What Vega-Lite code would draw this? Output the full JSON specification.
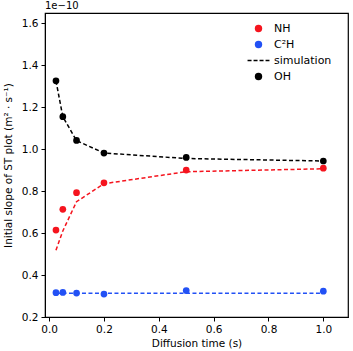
{
  "$schema": "https://vega.github.io/schema/vega-lite/v6.json",
  "width": 303,
  "height": 304,
  "autosize": {"type": "none"},
  "padding": {"left": 45, "top": 13, "right": 5, "bottom": 34},
  "background": "white",
  "title": {"text": "1e−10", "anchor": "start", "align": "left", "frame": "group", "orient": "top", "offset": 2, "font": "DejaVu Sans", "fontSize": 10, "fontWeight": "normal", "color": "black"},
  "config": {
    "view": {"stroke": "black", "strokeWidth": 1.2},
    "axis": {"grid": false, "domainColor": "black", "tickColor": "black", "labelColor": "black", "titleColor": "black", "labelFont": "DejaVu Sans", "titleFont": "DejaVu Sans", "labelFontSize": 10.5, "titleFontSize": 10.5, "titleFontWeight": "normal", "tickSize": 4, "labelPadding": 3},
    "legend": {"labelFont": "DejaVu Sans", "labelFontSize": 11, "labelColor": "black"}
  },
  "data": {"values": [
    {"series": "NH", "kind": "measured", "t": 0.025, "slope": 0.614},
    {"series": "NH", "kind": "measured", "t": 0.05, "slope": 0.713},
    {"series": "NH", "kind": "measured", "t": 0.1, "slope": 0.792},
    {"series": "NH", "kind": "measured", "t": 0.2, "slope": 0.839},
    {"series": "NH", "kind": "measured", "t": 0.5, "slope": 0.900},
    {"series": "NH", "kind": "measured", "t": 1.0, "slope": 0.909},
    {"series": "C²H", "kind": "measured", "t": 0.025, "slope": 0.316},
    {"series": "C²H", "kind": "measured", "t": 0.05, "slope": 0.317},
    {"series": "C²H", "kind": "measured", "t": 0.1, "slope": 0.314},
    {"series": "C²H", "kind": "measured", "t": 0.2, "slope": 0.309},
    {"series": "C²H", "kind": "measured", "t": 0.5, "slope": 0.326},
    {"series": "C²H", "kind": "measured", "t": 1.0, "slope": 0.323},
    {"series": "OH", "kind": "measured", "t": 0.025, "slope": 1.325},
    {"series": "OH", "kind": "measured", "t": 0.05, "slope": 1.154},
    {"series": "OH", "kind": "measured", "t": 0.1, "slope": 1.041},
    {"series": "OH", "kind": "measured", "t": 0.2, "slope": 0.981},
    {"series": "OH", "kind": "measured", "t": 0.5, "slope": 0.960},
    {"series": "OH", "kind": "measured", "t": 1.0, "slope": 0.943},
    {"series": "NH", "kind": "simulation", "t": 0.025, "slope": 0.518},
    {"series": "NH", "kind": "simulation", "t": 0.05, "slope": 0.61},
    {"series": "NH", "kind": "simulation", "t": 0.1, "slope": 0.749},
    {"series": "NH", "kind": "simulation", "t": 0.2, "slope": 0.835},
    {"series": "NH", "kind": "simulation", "t": 0.5, "slope": 0.892},
    {"series": "NH", "kind": "simulation", "t": 1.0, "slope": 0.906},
    {"series": "C²H", "kind": "simulation", "t": 0.025, "slope": 0.313},
    {"series": "C²H", "kind": "simulation", "t": 0.05, "slope": 0.313},
    {"series": "C²H", "kind": "simulation", "t": 0.1, "slope": 0.313},
    {"series": "C²H", "kind": "simulation", "t": 0.2, "slope": 0.313},
    {"series": "C²H", "kind": "simulation", "t": 0.5, "slope": 0.313},
    {"series": "C²H", "kind": "simulation", "t": 1.0, "slope": 0.313},
    {"series": "OH", "kind": "simulation", "t": 0.025, "slope": 1.325},
    {"series": "OH", "kind": "simulation", "t": 0.05, "slope": 1.154},
    {"series": "OH", "kind": "simulation", "t": 0.1, "slope": 1.040},
    {"series": "OH", "kind": "simulation", "t": 0.2, "slope": 0.981},
    {"series": "OH", "kind": "simulation", "t": 0.5, "slope": 0.955},
    {"series": "OH", "kind": "simulation", "t": 1.0, "slope": 0.943}
  ]},
  "encoding": {
    "x": {"field": "t", "type": "quantitative", "title": "Diffusion time (s)",
          "scale": {"domain": [-0.015, 1.09], "nice": false, "zero": false},
          "axis": {"values": [0, 0.2, 0.4, 0.6, 0.8, 1.0], "format": ".1f", "titlePadding": 4}},
    "y": {"field": "slope", "type": "quantitative", "title": "Initial slope of ST plot (m² · s⁻¹)",
          "scale": {"domain": [0.2, 1.648], "nice": false, "zero": false},
          "axis": {"values": [0.2, 0.4, 0.6, 0.8, 1.0, 1.2, 1.4, 1.6], "format": ".1f", "titlePadding": 8}},
    "color": {"field": "series", "type": "nominal",
              "scale": {"domain": ["NH", "C²H", "simulation", "OH"], "range": ["#f5141e", "#2251f5", "black", "black"]},
              "legend": {"title": null, "orient": "none", "legendX": 208, "legendY": 10, "symbolSize": 55, "rowPadding": 4, "labelOffset": 10,
                         "encode": {"symbols": {"update": {
                           "shape": {"signal": "datum.value === 'simulation' ? 'stroke' : 'circle'"},
                           "size": {"signal": "datum.value === 'simulation' ? 480 : 55"},
                           "strokeDash": {"signal": "datum.value === 'simulation' ? [4, 2] : [1, 0]"},
                           "strokeWidth": {"signal": "datum.value === 'simulation' ? 1.5 : 0"},
                           "stroke": {"signal": "datum.value === 'simulation' ? 'black' : 'transparent'"},
                           "fill": {"signal": "datum.value === 'simulation' ? 'transparent' : (datum.value === 'NH' ? '#f5141e' : (datum.value === 'OH' ? 'black' : '#2251f5'))"},
                           "opacity": {"value": 1},
                           "fillOpacity": {"value": 1}
                         }}}}}
  },
  "layer": [
    {"transform": [{"filter": "datum.kind === 'simulation'"}],
     "mark": {"type": "line", "strokeDash": [4, 2.5], "strokeWidth": 1.5},
     "encoding": {"detail": {"field": "series"}, "order": {"field": "t"}}},
    {"transform": [{"filter": "datum.kind === 'measured'"}],
     "mark": {"type": "point", "filled": true, "size": 45, "opacity": 1, "shape": "circle"}}
  ]
}
